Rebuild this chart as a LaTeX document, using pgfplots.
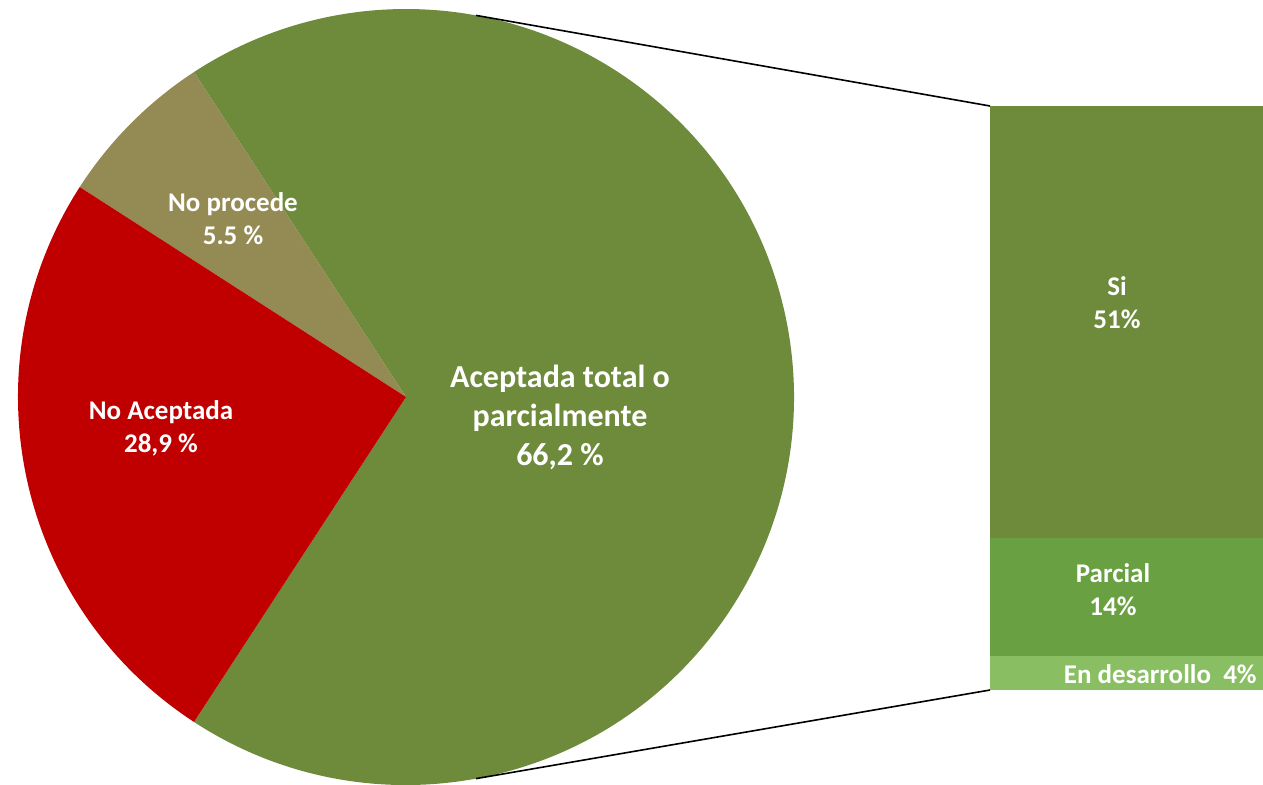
\documentclass[border=0pt]{standalone}
\usepackage{pgfplots}
\pgfplotsset{compat=1.18}
\usepackage{fontspec}
\setmainfont{Carlito}

\definecolor{cAcep}{HTML}{6E8A3B}
\definecolor{cProc}{HTML}{948A54}
\definecolor{cNoAc}{HTML}{C00000}
\definecolor{cSi}{HTML}{6E8A3B}
\definecolor{cPar}{HTML}{68A042}
\definecolor{cDes}{HTML}{89BF62}
\tikzset{lbl/.style={text=white, font=\bfseries\fontsize{13.5}{16.5}\selectfont, align=center}}

% pie shares (as drawn) and bar values
\def\vAcep{68.4}
\def\vProc{6.7}
\def\vNoAc{24.9}
% pie geometry in pixel units
\def\cx{406}
\def\cy{387}
\def\R{388}
\pgfmathsetmacro\aA{-\vAcep*1.8}
\pgfmathsetmacro\aB{\vAcep*1.8}
\pgfmathsetmacro\aC{\aB+\vProc*3.6}
\pgfmathsetmacro\aD{\aC+\vNoAc*3.6}
\pgfmathsetmacro\xA{\cx+\R*cos(\aA)}\pgfmathsetmacro\yA{\cy+\R*sin(\aA)}
\pgfmathsetmacro\xB{\cx+\R*cos(\aB)}\pgfmathsetmacro\yB{\cy+\R*sin(\aB)}
\pgfmathsetmacro\xC{\cx+\R*cos(\aC)}\pgfmathsetmacro\yC{\cy+\R*sin(\aC)}
% connector start points on the rim
\pgfmathsetmacro\xT{\cx+\R*cos(79.6)}\pgfmathsetmacro\yT{\cy+\R*sin(79.6)}
\pgfmathsetmacro\xU{\cx+\R*cos(-79.6)}\pgfmathsetmacro\yU{\cy+\R*sin(-79.6)}

\begin{document}
\begin{tikzpicture}
\useasboundingbox (0,0) rectangle (631.5pt,392pt);
% stacked bar (drawn first so the labels of the main axis sit on top)
\begin{axis}[
    at={(495pt,47pt)}, anchor=south west,
    scale only axis, width=136.5pt, height=292pt,
    xmin=-0.5, xmax=0.5, ymin=0, ymax=69,
    hide axis, clip=false,
    ybar stacked, bar width=136.5pt,
]
\addplot[fill=cDes, draw=none] coordinates {(0,4)};
\addplot[fill=cPar, draw=none] coordinates {(0,14)};
\addplot[fill=cSi, draw=none] coordinates {(0,51)};
\end{axis}

\begin{axis}[
    at={(0,0)}, anchor=origin,
    x=0.5pt, y=0.5pt,
    xmin=0, xmax=1263, ymin=0, ymax=784,
    hide axis, clip=false,
]
\fill[cAcep] (axis cs:\cx,\cy) -- (axis cs:\xA,\yA) arc[start angle=\aA, end angle=\aB, radius=\R] -- cycle;
\fill[cProc] (axis cs:\cx,\cy) -- (axis cs:\xB,\yB) arc[start angle=\aB, end angle=\aC, radius=\R] -- cycle;
\fill[cNoAc] (axis cs:\cx,\cy) -- (axis cs:\xC,\yC) arc[start angle=\aC, end angle=\aD, radius=\R] -- cycle;

\draw[black, line width=0.8pt] (axis cs:\xT,\yT) -- (axis cs:990,678);
\draw[black, line width=0.8pt] (axis cs:\xU,\yU) -- (axis cs:990,94);

\node[lbl] at (axis cs:233,565) {No procede\\5.5 \%};
\node[lbl] at (axis cs:161,356) {No Aceptada\\28,9 \%};
\node[lbl, font=\bfseries\fontsize{16}{19.5}\selectfont] at (axis cs:560,367) {Aceptada total o\\parcialmente\\66,2 \%};
\node[lbl] at (axis cs:1117,481) {Si\\51\%};
\node[lbl] at (axis cs:1113,194) {Parcial\\14\%};
\node[lbl, anchor=east, inner sep=0pt] at (axis cs:1257,110) {En desarrollo\ \ 4\%};
\end{axis}
\end{tikzpicture}
\end{document}
